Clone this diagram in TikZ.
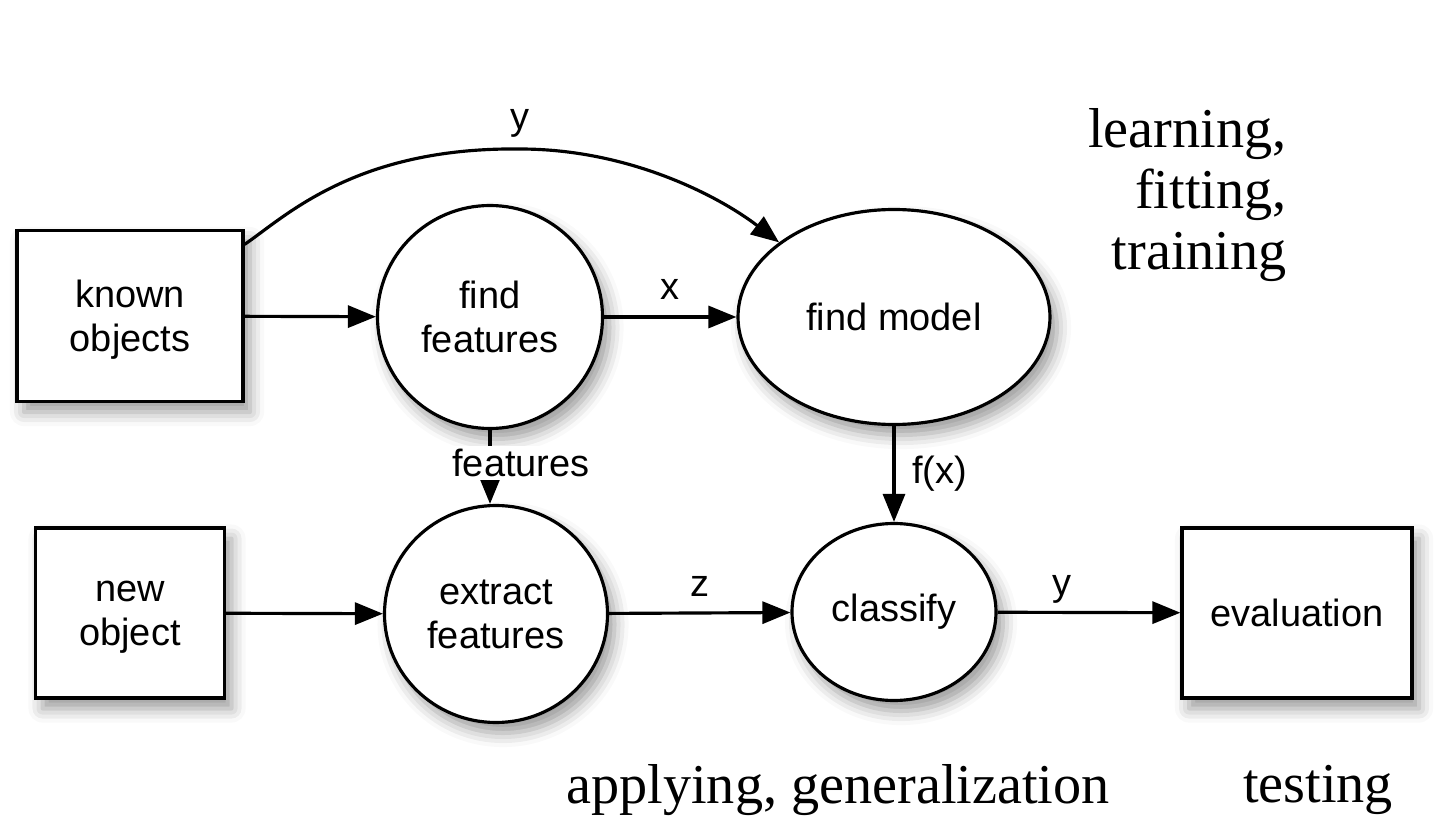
\documentclass[tikz,border=0pt]{standalone}
\usepackage{fontspec}
\setmainfont{Liberation Serif}
\setsansfont{Liberation Sans}
\usetikzlibrary{arrows.meta,shadows.blur,shapes.geometric,calc}

\tikzset{
    every node/.style={font=\sffamily\fontsize{10.8}{12.5}\selectfont},
    box/.style={rectangle,draw=black,fill=white,line width=0.9pt,align=center,text depth=0pt,
        blur shadow={shadow xshift=2pt,shadow yshift=-3pt,shadow blur radius=4pt}},
    blob/.style={ellipse,draw=black,fill=white,line width=0.9pt,align=center,inner sep=0pt,
        blur shadow={shadow xshift=2pt,shadow yshift=-3pt,shadow blur radius=4pt}},
    lbl/.style={text height=1.6ex,text depth=0.4ex},
    arr/.style={line width=0.9pt,-{Triangle[length=0.28cm,width=0.22cm]}},
    stage/.style={font=\rmfamily\fontsize{16}{17.4}\selectfont}
}

\begin{document}
\begin{tikzpicture}
            \useasboundingbox (0,0) rectangle (14.54,8.22);

            \node[box,minimum width=2.26cm,minimum height=1.71cm] (ko) at (1.30,5.06) {known\\objects};
            \node[blob,minimum width=2.25cm,minimum height=2.23cm] (ff) at (4.90,5.05) {find\\features};
            \node[blob,minimum width=3.12cm,minimum height=2.15cm] (fm) at (8.94,5.05) {find model};
            \node[box,minimum width=1.89cm,minimum height=1.70cm] (no) at (1.30,2.09) {new\\object};
            \node[blob,minimum width=2.23cm,minimum height=2.17cm] (ef) at (4.96,2.08) {extract\\features};
            \node[blob,minimum width=2.04cm,minimum height=1.77cm] (cl) at (8.94,2.10) {classify};
            \node[box,minimum width=2.30cm,minimum height=1.70cm] (ev) at (12.97,2.09) {evaluation};

            %Ora gli archi
            \coordinate (top) at (5.20,6.73);
            \draw[arr] (ko.32) .. controls (2.85,6.05) and (3.55,6.75) .. (top) node[lbl,above=0pt] {y}
                .. controls (6.30,6.73) and (7.20,6.25) .. (fm.147);
            \draw[arr] (ko) edge node[above] {} (ff);
            \draw[arr] (ff) edge node[lbl,above=-0.02cm] {x} (fm);

            \draw[arr] (ff.south) -- node[fill=white,inner sep=1pt,xshift=0.31cm,yshift=0.04cm] {features} (ff.south |- ef.north);
            \draw[arr] (fm) edge node[right=0.05cm] {f(x)} (cl);

            \draw[arr] (no) edge node[above] {} (ef);
            \draw[arr] (ef) edge node[lbl,above=-0.03cm] {z} (cl);
            \draw[arr] (cl) edge node[lbl,above=-0.03cm,pos=0.35] {y} (ev);

            %stages
            \node[stage,align=right,anchor=east] (lft) at (12.99,6.27) {learning,\\fitting,\\training};
            \node[stage] (apl) at (8.38,0.32) {applying, generalization};
            \node[stage] (tst) at (13.18,0.32) {testing};

        \end{tikzpicture}
\end{document}
